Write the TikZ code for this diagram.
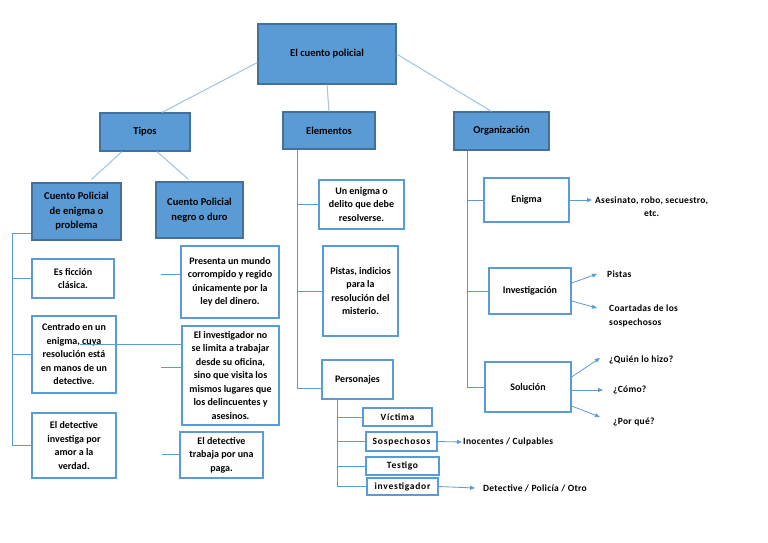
\documentclass[tikz,border=0pt]{standalone}
\usepackage{fontspec}
\setmainfont{Carlito}
\usetikzlibrary{arrows.meta}
\definecolor{azul}{HTML}{5B9BD5}
\definecolor{azulosc}{HTML}{41719C}
\definecolor{azulcl}{HTML}{9DC3E6}

\begin{document}
\begin{tikzpicture}[x=1pt,y=-1pt,
  hdr/.style={draw=azulosc,fill=azul,line width=1.2pt,inner sep=0pt,align=center,font=\fontsize{10.5}{14.5}\selectfont\bfseries},
  item/.style={draw=azul,fill=white,line width=1.2pt,inner sep=0pt,align=center,font=\fontsize{10}{13.5}\selectfont\bfseries},
  sub/.style={item,font=\fontsize{9.5}{12}\selectfont\bfseries\addfontfeature{LetterSpace=8}},
  txt/.style={inner sep=0pt,anchor=west,align=left,font=\fontsize{9.5}{14}\selectfont\bfseries\addfontfeature{LetterSpace=3}},
  lnk/.style={draw=azul,line width=1pt},
  tlnk/.style={draw=azulcl,line width=1pt},
  arr/.style={draw=azul,line width=0.8pt,-{Triangle[length=5pt,width=4pt]}}]
\fill[white] (0,0) rectangle (768,543);
\useasboundingbox (0,0) rectangle (768,543);

\node[hdr,minimum width=138pt,minimum height=60pt] (root) at (327,54) {El cuento policial};
\node[hdr,minimum width=90pt,minimum height=38pt] (tipos) at (145,132) {Tipos};
\node[hdr,minimum width=92pt,minimum height=37pt] (elem) at (329,130.5) {Elementos};
\node[hdr,minimum width=95pt,minimum height=38pt] (org) at (501.5,131) {Organización};

\node[hdr,minimum width=89pt,minimum height=57pt] (enigmaP) at (76.5,211.5) {Cuento Policial\\de enigma o\\problema};
\node[hdr,minimum width=87pt,minimum height=56pt] (negro) at (199.5,210) {Cuento Policial\\negro o duro};

\node[item,minimum width=82pt,minimum height=39pt] (ficcion) at (73,278.5) {Es ficción\\clásica.};
\node[item,minimum width=84pt,minimum height=77pt] (centrado) at (74,354.5) {Centrado en un\\enigma, cuya\\resolución está\\en manos de un\\detective.};
\node[item,minimum width=84pt,minimum height=65pt] (invest) at (74,445.5) {El detective\\investiga por\\amor a la\\verdad.};
\node[item,minimum width=98pt,minimum height=72pt] (presenta) at (230,282) {Presenta un mundo\\corrompido y regido\\únicamente por la\\ley del dinero.};
\node[item,minimum width=97pt,minimum height=99pt] (limita) at (230.5,375.5) {El investigador no\\se limita a trabajar\\desde su oficina,\\sino que visita los\\mismos lugares que\\los delincuentes y\\asesinos.};
\node[item,minimum width=83pt,minimum height=46pt] (paga) at (221.5,455) {El detective\\trabaja por una\\paga.};

\node[item,minimum width=85pt,minimum height=49pt] (delito) at (361.5,204.5) {Un enigma o\\delito que debe\\resolverse.};
\node[item,minimum width=75pt,minimum height=90pt] (pistasE) at (360.5,291) {Pistas, indicios\\para la\\resolución del\\misterio.};
\node[item,minimum width=71pt,minimum height=39pt] (personajes) at (357.5,379.5) {Personajes};
\node[sub,minimum width=69pt,minimum height=18pt] (victima) at (397.5,417) {Víctima};
\node[sub,minimum width=71pt,minimum height=19pt] (sosp) at (401.5,441.5) {Sospechosos};
\node[sub,minimum width=73pt,minimum height=18pt] (testigo) at (402.5,466) {Testigo};
\node[sub,minimum width=71pt,minimum height=17pt] (investigador) at (402.5,486.5) {investigador};

\node[item,minimum width=85pt,minimum height=44pt] (enigmaO) at (526.5,200) {Enigma};
\node[item,minimum width=82pt,minimum height=46pt] (investig) at (530,291) {Investigación};
\node[item,minimum width=86pt,minimum height=50pt] (solucion) at (528,387) {Solución};

\node[txt,align=center,font=\fontsize{9.5}{13}\selectfont\bfseries\addfontfeature{LetterSpace=3}] (asesinato) at (595,206.5) {Asesinato, robo, secuestro,\\etc.};
\node[txt] (pistasO) at (607,274) {Pistas};
\node[txt] (coartadas) at (609,316) {Coartadas de los\\sospechosos};
\node[txt] (quien) at (609,360) {¿Quién lo hizo?};
\node[txt] (como) at (613,390) {¿Cómo?};
\node[txt] (porque) at (613,422) {¿Por qué?};
\node[txt] (inocentes) at (463,442) {Inocentes / Culpables};
\node[txt] (otro) at (483,488) {Detective / Policía / Otro};

\draw[tlnk] (root.187) -- ([xshift=17pt]tipos.north);
\draw[tlnk] (root.south) -- (elem.north);
\draw[tlnk] (root.east) -- ([xshift=-10pt]org.north);
\draw[tlnk] ([xshift=-23pt]tipos.south) -- ([xshift=15pt,yshift=3pt]enigmaP.north);
\draw[tlnk] ([xshift=12pt]tipos.south) -- ([xshift=-11pt,yshift=2pt]negro.north);

\coordinate (lft) at (12,233);
\draw[lnk] (enigmaP.west |- lft) -- (lft) |- (invest.west);
\draw[lnk] (lft) |- (ficcion.west);
\draw[lnk] (lft) |- (centrado.west);
\draw[lnk] ([yshift=8pt]presenta.west) -- ++(-19,0);
\draw[lnk] ([yshift=8.5pt]limita.west) -- ++(-20,0);
\draw[lnk] ([yshift=1pt]paga.west) -- ++(-17,0);
\coordinate (stray) at (80,344);
\draw[lnk] (stray) -- (stray -| limita.west);

\coordinate (ev) at ([xshift=-32pt]elem.south);
\draw[lnk] (ev) |- ([yshift=-9pt]personajes.west);
\draw[lnk] (ev |- delito.west) -- (delito.west);
\draw[lnk] (ev |- pistasE.west) -- (pistasE.west);
\coordinate (pv) at ([xshift=-20.5pt]personajes.south);
\draw[lnk] (pv) |- (investigador.west);
\draw[lnk] (pv |- victima.west) -- (victima.west);
\draw[lnk] (pv |- sosp.west) -- (sosp.west);
\draw[lnk] (pv |- testigo.west) -- (testigo.west);

\coordinate (ov) at ([xshift=-34pt]org.south);
\draw[lnk] (ov) |- (solucion.west);
\draw[lnk] (ov |- enigmaO.west) -- (enigmaO.west);
\draw[lnk] (ov |- investig.west) -- (investig.west);

\draw[arr] (enigmaO.east) -- ([xshift=-3pt]enigmaO.east -| asesinato.west);
\draw[arr] ([yshift=8pt]investig.east) -- ([xshift=-10pt]pistasO.west);
\draw[arr] ([yshift=-10pt]investig.east) -- ([xshift=-12pt,yshift=8pt]coartadas.west);
\draw[arr] ([yshift=10pt]solucion.east) -- ([xshift=-9pt,yshift=2pt]quien.west);
\draw[arr] ([yshift=-3pt]solucion.east) -- ([xshift=-10pt]como.west);
\draw[arr] ([yshift=-19pt]solucion.east) -- ([xshift=-13pt,yshift=5pt]porque.west);
\draw[arr] (sosp.east) -- ([xshift=-1pt]inocentes.west);
\draw[arr] (investigador.east) -- ([xshift=-8pt]otro.west);
\end{tikzpicture}
\end{document}
